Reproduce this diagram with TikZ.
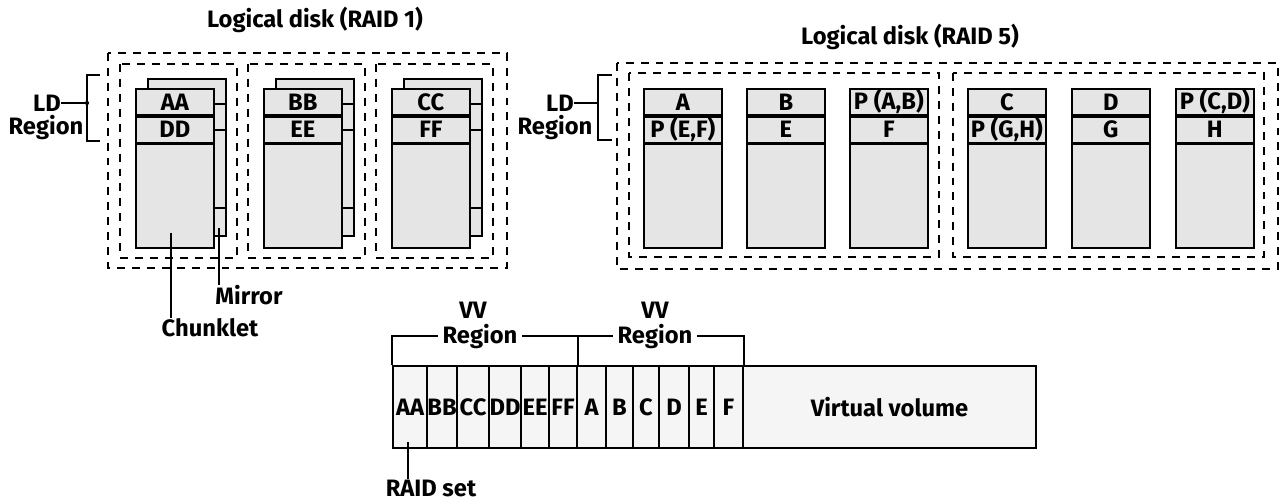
\documentclass[tikz,border=0pt]{standalone}
\usepackage{fontspec}
\setmainfont{Fira Sans}
\usepackage{xcolor}
\usepackage{tikz}
\usetikzlibrary{positioning}

\begin{document}
\begin{tikzpicture}[
  x=0.02cm, y=-0.02cm,
  every node/.style={
    font=\bfseries\fontsize{13.5}{15}\selectfont,
    inner sep=0pt
  },
  row/.style={draw, line width=1pt, fill=gray!20, minimum width=1.56cm, minimum height=0.52cm, anchor=north west},
  body/.style={row, minimum height=2.08cm},
  mirror/.style={draw, line width=1pt, fill=gray!20, minimum width=1.56cm, minimum height=3.14cm, anchor=north west},
  ldbox/.style={line width=1.4pt, dash pattern=on 4.5pt off 4pt},
  vvcell/.style={draw, line width=1pt, fill=gray!8, minimum height=1.64cm},
  link/.style={line width=1pt},
  lbl/.style={fill=white, inner sep=2.5pt}
]
\useasboundingbox (0,0) rectangle (1282,503);

% Logical disk (RAID 1)
\node (t1) at (315,20) {Logical disk (RAID 1)};
\draw[ldbox] (108,53) rectangle (507,268);
\foreach \x/\p/\q [count=\i] in {135/AA/DD, 263/BB/EE, 391/CC/FF} {
  \node[mirror] (oneM\i) at ({\x+12},78) {};
  \node[row] (oneA\i) at (\x,88) {\p};
  \node[row, below=0pt of oneA\i] (oneB\i) {\q};
  \node[body, below=0pt of oneB\i] (oneC\i) {};
  \foreach \d in {26,52,130}
    \draw[link] ([shift={(-12,\d)}]oneM\i.north east) -- ++(12,0);
  \draw[ldbox] ({\x-15},64) rectangle ({\x+102},258);
}

% LD region, RAID 1
\node (ld1) at (47,103) {LD};
\node (ldr1) at (46,128) {Region};
\coordinate (br1) at (87,103);
\draw[link] (100,75) -- (87,75) -- (87,141) -- (100,141);
\draw[link] (ld1.east) -- (br1);
\fill (br1) circle (1.2pt);

% Chunklet and mirror
\node (chunk) at (210,328) {Chunklet};
\node (mirr) at (249,295) {Mirror};
\coordinate (ck) at (171,233);
\coordinate (mk) at (219,228);
\draw[link] (ck) -- (ck |- chunk.north);
\draw[link] (mk) -- (mk |- mirr.north);

% Logical disk (RAID 5)
\node (t5) at (910,37) {Logical disk (RAID 5)};
\draw[ldbox] (617,63) rectangle (1278,269);
\draw[ldbox] (629,73) rectangle (939,257);
\draw[ldbox] (953,73) rectangle (1264,257);
\foreach \x/\p/\q [count=\i] in {643/A/{P (E,F)}, 746/B/E, 849/{P (A,B)}/F,
                                  967/C/{P (G,H)}, 1071/D/G, 1175/{P (C,D)}/H} {
  \node[row] (fiveA\i) at (\x,88) {\p};
  \node[row, below=0pt of fiveA\i] (fiveB\i) {\q};
  \node[body, below=0pt of fiveB\i] (fiveC\i) {};
}

% LD region, RAID 5
\node (ld5) at (560,103) {LD};
\node (ldr5) at (555,128) {Region};
\coordinate (br5) at (598,103);
\draw[link] (612,75) -- (598,75) -- (598,140) -- (612,140);
\draw[link] (ld5.east) -- (br5);

% Virtual volume
\foreach \a/\b/\t [count=\i] in {393/427/AA, 427/457/BB, 457/489/CC, 489/521/DD,
    521/549/EE, 549/577/FF, 577/606/A, 606/633/B, 633/659/C, 659/689/D,
    689/714/E, 714/743/F}
  \node[vvcell, minimum width={(\b-\a)*0.02cm}] (vv\i) at ({(\a+\b)/2},407) {\t};
\node[vvcell, minimum width=5.86cm] (vol) at (889.5,407) {Virtual volume};

% VV regions
\draw[link] (vv1.north west) -- ++(0,-29) -| (vv6.north east);
\draw[link] (vv6.north east) ++(0,-29) -| (vv12.north east);
\node[lbl] (reg1) at (480,337) {Region};
\node (vvt1) at (473,310) {VV};
\node[lbl] (reg2) at (655,337) {Region};
\node (vvt2) at (655,310) {VV};

% RAID set
\node (rset) at (431,488) {RAID set};
\coordinate (rs) at (408,442);
\draw[link] (rs) -- (rs |- rset.north);

\end{tikzpicture}
\end{document}
